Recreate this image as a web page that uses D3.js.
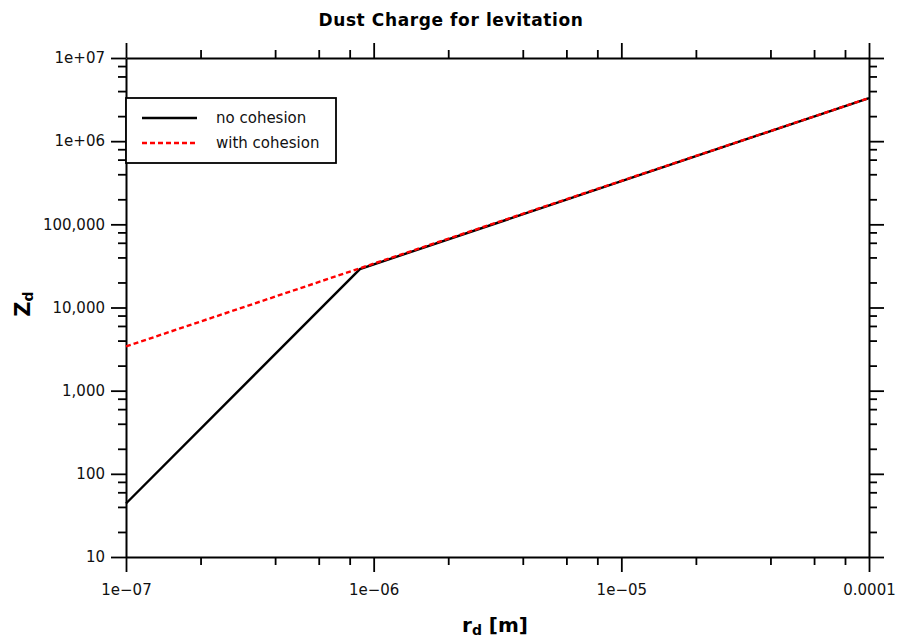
<!DOCTYPE html>
<html>
<head>
<meta charset="utf-8">
<script src="https://cdn.jsdelivr.net/npm/d3@7"></script>
<style>
  html, body { margin: 0; padding: 0; background: #fff; }
  svg { display: block; font-family: "DejaVu Sans", Verdana, sans-serif; }
</style>
</head>
<body>
<svg id="chart" width="897" height="641"></svg>
<script>
// Grain radius r_d [m] and dust charge number Z_d for levitation
const radiusNoCohesion = [1e-7, 8.8e-7, 1e-4];
const chargeNoCohesion = [44, 29000, 3.3e6];
const radiusWithCohesion = [1e-7, 1e-4];
const chargeWithCohesion = [3400, 3.3e6];

const seriesNames = ["no cohesion", "with cohesion"];
const seriesColors = ["#000000", "#ff0000"];

const xMajorTicks = [1e-7, 1e-6, 1e-5, 1e-4];
const xTickLabels = ["1e\u221207", "1e\u221206", "1e\u221205", "0.0001"];
const yMajorTicks = [10, 100, 1000, 10000, 100000, 1e6, 1e7];
const yTickLabels = ["10", "100", "1,000", "10,000", "100,000", "1e+06", "1e+07"];
const minorMultipliers = [2, 4, 6, 8];

const svg = d3.select("#chart");
const plotLeft = 126, plotRight = 869, plotTop = 58, plotBottom = 557;

const x = d3.scaleLog().domain([1e-7, 1e-4]).range([plotLeft, plotRight]);
const y = d3.scaleLog().domain([10, 1e7]).range([plotBottom, plotTop]);

function minorsOf(majors) {
  const out = [];
  majors.slice(0, -1).forEach(m => minorMultipliers.forEach(k => out.push(m * k)));
  return out;
}
const xMinor = minorsOf(xMajorTicks);
const yMinor = minorsOf(yMajorTicks);

function styleAxis(g) {
  g.selectAll(".domain").attr("stroke", "#000").attr("stroke-width", 2);
  g.selectAll(".tick line").attr("stroke", "#000").attr("stroke-width", 1.8);
  g.selectAll(".tick text").attr("fill", "#111").attr("font-size", 15)
    .attr("font-family", "DejaVu Sans, Verdana, sans-serif");
}

// Bottom axis
const gB = svg.append("g").attr("transform", `translate(0,${plotBottom})`);
gB.call(d3.axisBottom(x).tickValues(xMajorTicks).tickSize(15).tickSizeOuter(0)
  .tickFormat((d, i) => xTickLabels[i]).tickPadding(12));
gB.append("g").call(d3.axisBottom(x).tickValues(xMinor).tickSize(8).tickSizeOuter(0).tickFormat(""))
  .select(".domain").remove();
styleAxis(gB);

// Top axis
const gT = svg.append("g").attr("transform", `translate(0,${plotTop})`);
gT.call(d3.axisTop(x).tickValues(xMajorTicks).tickSize(15).tickSizeOuter(0).tickFormat(""));
gT.append("g").call(d3.axisTop(x).tickValues(xMinor).tickSize(8).tickSizeOuter(0).tickFormat(""))
  .select(".domain").remove();
styleAxis(gT);

// Left axis
const gL = svg.append("g").attr("transform", `translate(${plotLeft},0)`);
gL.call(d3.axisLeft(y).tickValues(yMajorTicks).tickSize(15).tickSizeOuter(0)
  .tickFormat((d, i) => yTickLabels[i]).tickPadding(6));
gL.append("g").call(d3.axisLeft(y).tickValues(yMinor).tickSize(8).tickSizeOuter(0).tickFormat(""))
  .select(".domain").remove();
styleAxis(gL);

// Right axis
const gR = svg.append("g").attr("transform", `translate(${plotRight},0)`);
gR.call(d3.axisRight(y).tickValues(yMajorTicks).tickSize(15).tickSizeOuter(0).tickFormat(""));
gR.append("g").call(d3.axisRight(y).tickValues(yMinor).tickSize(8).tickSizeOuter(0).tickFormat(""))
  .select(".domain").remove();
styleAxis(gR);

// Curves
const line = d3.line().x(d => x(d[0])).y(d => y(d[1]));
const plot = svg.append("g");
plot.append("path")
  .datum(radiusNoCohesion.map((r, i) => [r, chargeNoCohesion[i]]))
  .attr("d", line).attr("fill", "none")
  .attr("stroke", seriesColors[0]).attr("stroke-width", 2.4);
plot.append("path")
  .datum(radiusWithCohesion.map((r, i) => [r, chargeWithCohesion[i]]))
  .attr("d", line).attr("fill", "none")
  .attr("stroke", seriesColors[1]).attr("stroke-width", 2.4)
  .attr("stroke-dasharray", "5,3");

// Legend
const legend = svg.append("g");
legend.append("rect").attr("x", 126).attr("y", 98).attr("width", 210).attr("height", 65)
  .attr("fill", "#fff").attr("stroke", "#000").attr("stroke-width", 1.8);
seriesNames.forEach((name, i) => {
  const ly = 118 + i * 25;
  legend.append("line").attr("x1", 142).attr("x2", 197).attr("y1", ly).attr("y2", ly)
    .attr("stroke", seriesColors[i]).attr("stroke-width", 2.6)
    .attr("stroke-dasharray", i === 1 ? "5,3" : null);
  legend.append("text").attr("x", 216).attr("y", ly + 5).attr("font-size", 15)
    .attr("fill", "#111").text(name);
});

// Title
svg.append("text").attr("x", 451).attr("y", 26).attr("text-anchor", "middle")
  .attr("font-size", 17).attr("font-weight", "bold").attr("letter-spacing", 0.6)
  .text("Dust Charge for levitation");

// X axis title
const xt = svg.append("text").attr("x", 495).attr("y", 632).attr("text-anchor", "middle")
  .attr("font-size", 20).attr("font-weight", "bold");
xt.append("tspan").text("r");
xt.append("tspan").attr("font-size", 14).attr("dy", 3).text("d");
xt.append("tspan").attr("dy", -3).text(" [m]");

// Y axis title
const yt = svg.append("text").attr("transform", "translate(30,304) rotate(-90)")
  .attr("text-anchor", "middle").attr("font-size", 21).attr("font-weight", "bold");
yt.append("tspan").text("Z");
yt.append("tspan").attr("font-size", 14).attr("dy", 3).text("d");
</script>
</body>
</html>
